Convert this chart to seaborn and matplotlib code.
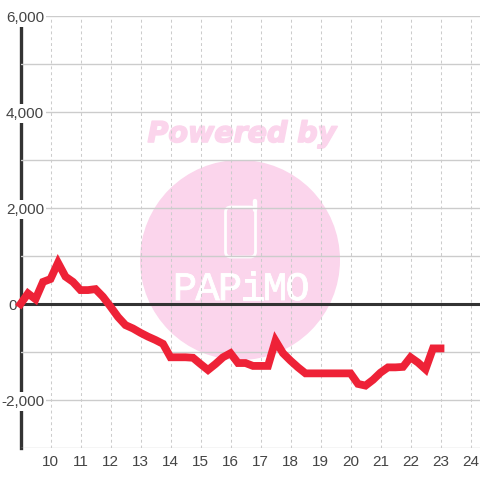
import matplotlib
matplotlib.use("Agg")
import matplotlib.pyplot as plt
from matplotlib.patches import Ellipse, FancyBboxPatch
import matplotlib.patheffects as pe
import seaborn as sns
import pandas as pd

hours = [9, 9.25, 9.5, 9.75, 10, 10.25, 10.5, 10.75, 11, 11.25, 11.5, 11.75,
         12, 12.25, 12.5, 12.75, 13, 13.25, 13.5, 13.75, 14, 14.25, 14.5, 14.75,
         15, 15.25, 15.5, 15.75, 16, 16.25, 16.5, 16.75, 17, 17.25, 17.5, 17.75,
         18, 18.25, 18.5, 18.75, 19, 19.25, 19.5, 19.75, 20, 20.25, 20.5, 20.75,
         21, 21.25, 21.5, 21.75, 22, 22.25, 22.5, 22.75, 23]
values = [0, 220, 100, 460, 520, 860, 570, 460, 290, 290, 310, 150,
          -55, -270, -440, -510, -600, -680, -750, -830, -1110, -1110, -1110, -1120,
          -1250, -1375, -1250, -1110, -1025, -1230, -1230, -1290, -1290, -1290, -765, -1025,
          -1180, -1320, -1445, -1445, -1445, -1445, -1445, -1445, -1445, -1665, -1700, -1580,
          -1430, -1320, -1320, -1310, -1110, -1220, -1360, -925, -925]
x_ticks = list(range(10, 25))
y_ticks = list(range(-3000, 7000, 1000))
y_labels = ["", "-2,000", "", "0", "", "2,000", "", "4,000", "", "6,000"]
logo_letters = list("PAPiMO")

sns.set_theme(style="whitegrid")
plt.rcParams["font.family"] = ["Liberation Sans", "DejaVu Sans"]

W, H = 480, 480
L, R, T, B = 20.5, 480, 16, 448
fig = plt.figure(figsize=(4.8, 4.8), dpi=100, facecolor="white")
ax = fig.add_axes([L / W, 1 - B / H, (R - L) / W, (B - T) / H])
ax.set_facecolor("white")

df = pd.DataFrame({"hour": hours, "value": values})
sns.lineplot(data=df, x="hour", y="value", ax=ax, color="#EE2237", linewidth=5.6,
             zorder=6, clip_on=False, solid_joinstyle="miter", solid_capstyle="projecting",
             errorbar=None)

ax.set_xlim(9, 9 + (R - L) / 30)
ax.set_ylim(-3000, 6000)
ax.set_xlabel("")
ax.set_ylabel("")
ax.set_xticks(x_ticks)
ax.set_xticklabels([str(t) for t in x_ticks])
ax.set_yticks(y_ticks)
ax.set_yticklabels(y_labels)

ax.set_axisbelow(False)
ax.xaxis.grid(True, color="#cccccc", linewidth=0.75, linestyle=(0, (2.8, 2.8)))
ax.yaxis.grid(True, color="#cccccc", linewidth=1.0, linestyle="-")
ax.tick_params(axis="x", length=0, pad=5, labelsize=11, labelcolor="#444444")
ax.tick_params(axis="y", length=0, pad=0, labelsize=11, labelcolor="#444444")

for s in ["top", "right", "bottom"]:
    ax.spines[s].set_visible(False)
ax.spines["left"].set_color("#333333")
ax.spines["left"].set_linewidth(2.4)
ax.spines["left"].set_zorder(1)

ax.axhline(0, color="#333333", linewidth=2.2, zorder=4)

for lab, txt in zip(ax.get_yticklabels(), y_labels):
    lab.set_ha("right")
    right_px = 17 if txt == "0" else 44
    lab.set_x((right_px - L) / (R - L))
    lab.set_bbox(dict(facecolor="white", edgecolor="none", pad=1.5))

# watermark, in pixel-based axes fractions
def fx(px):
    return (px - L) / (R - L)
def fy(py):
    return (B - py) / (B - T)

pink = "#FBD5EC"
ax.add_patch(Ellipse((fx(240), fy(260)), 200 / (R - L), 200 / (B - T),
                     transform=ax.transAxes, facecolor=pink, edgecolor="none", zorder=0.1))
ax.text(fx(242), fy(134), "Powered by", transform=ax.transAxes, ha="center", va="center",
        color=pink, fontsize=20.5, fontweight="bold", fontstyle="italic",
        family="DejaVu Sans", zorder=0.1,
        path_effects=[pe.withStroke(linewidth=1.2, foreground=pink)])
ax.add_patch(FancyBboxPatch((fx(225.5), fy(257)), 30 / (R - L), 50 / (B - T),
                            boxstyle="round,pad=0,rounding_size=0.012",
                            transform=ax.transAxes, facecolor="none", edgecolor="white",
                            linewidth=2.0, zorder=0.2))
ax.plot([fx(254.5), fx(254.5)], [fy(210), fy(201)], transform=ax.transAxes, color="white",
        linewidth=3.2, solid_capstyle="round", zorder=0.2)
for i, ch in enumerate(logo_letters):
    ax.text(fx(185 + i * 22.5), fy(289), ch, transform=ax.transAxes, ha="center", va="center",
            color="white", fontsize=29, family="Liberation Mono", zorder=0.2,
            path_effects=[pe.withStroke(linewidth=0.6, foreground="white")])

fig.savefig("out.png", dpi=100)
